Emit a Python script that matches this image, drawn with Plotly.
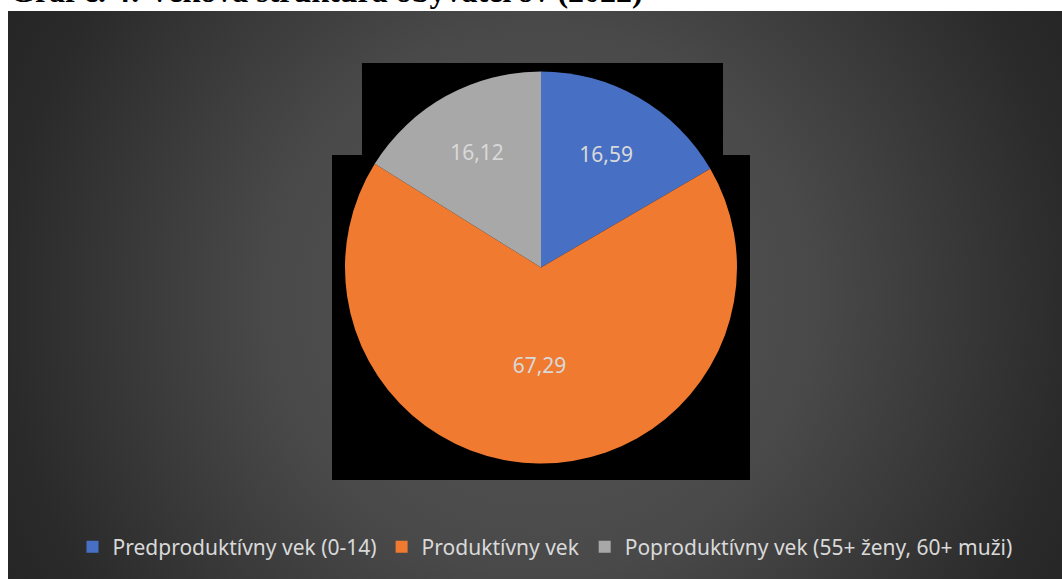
import base64
import plotly.graph_objects as go

# Age structure of the population, 2022 (share in %)
categories = [
    "Predproduktívny vek (0-14)",
    "Produktívny vek",
    "Poproduktívny vek (55+ ženy, 60+ muži)",
]
shares = [16.59, 67.29, 16.12]
slice_colors = ["#4770c4", "#ef7a30", "#a8a8a8"]

title_text = "Graf č. 4: Veková štruktúra obyvateľov (2022)"

W, H = 1062, 579


def px_x(x):
    return x / W


def px_y(y):
    return 1 - y / H


# Dark radial background of the chart area
bg_w, bg_h = 1054, 568
bg_svg = f"""<svg xmlns='http://www.w3.org/2000/svg' width='{bg_w}' height='{bg_h}' viewBox='0 0 {bg_w} {bg_h}' preserveAspectRatio='none'>
<defs><radialGradient id='g' gradientUnits='userSpaceOnUse' cx='533' cy='290' r='610'>
<stop offset='0' stop-color='#575757'/>
<stop offset='0.45' stop-color='#494949'/>
<stop offset='0.88' stop-color='#2a2a2a'/>
<stop offset='1' stop-color='#252525'/>
</radialGradient></defs>
<rect width='{bg_w}' height='{bg_h}' fill='url(#g)'/></svg>"""
bg_uri = "data:image/svg+xml;base64," + base64.b64encode(bg_svg.encode()).decode()

label_font = "'Noto Sans', 'Open Sans', sans-serif"

fig = go.Figure(
    go.Pie(
        labels=categories,
        values=shares,
        sort=False,
        direction="clockwise",
        rotation=0,
        marker=dict(colors=slice_colors, line=dict(width=0)),
        texttemplate="%{value:.2f}",
        textposition="inside",
        insidetextorientation="horizontal",
        textfont=dict(family=label_font, size=21, color="#d9d9d9"),
        hoverinfo="label+value",
        domain=dict(x=[px_x(318), px_x(764)], y=[px_y(463.5), px_y(71.5)]),
        showlegend=True,
    )
)

fig.update_layout(
    width=W,
    height=H,
    margin=dict(l=0, r=0, t=0, b=0),
    paper_bgcolor="white",
    separators=", ",
    images=[
        dict(
            source=bg_uri,
            xref="paper", yref="paper",
            x=px_x(8), y=px_y(11),
            sizex=bg_w / W, sizey=bg_h / H,
            xanchor="left", yanchor="top",
            sizing="stretch",
            layer="below",
        )
    ],
    shapes=[
        dict(type="rect", xref="paper", yref="paper",
             x0=px_x(362), x1=px_x(723), y0=px_y(160), y1=px_y(63),
             fillcolor="black", line=dict(width=0), layer="below"),
        dict(type="rect", xref="paper", yref="paper",
             x0=px_x(332), x1=px_x(750), y0=px_y(480), y1=px_y(155),
             fillcolor="black", line=dict(width=0), layer="below"),
    ],
    annotations=[
        dict(
            text=f"<b>{title_text}</b>",
            xref="paper", yref="paper",
            x=px_x(8), y=px_y(11),
            xanchor="left", yanchor="bottom",
            showarrow=False,
            font=dict(family="Liberation Serif, 'Times New Roman', serif", size=32, color="black"),
        )
    ],
    legend=dict(
        orientation="h",
        x=px_x(545), xanchor="center",
        y=px_y(547), yanchor="middle",
        font=dict(family=label_font, size=21, color="#d9d9d9"),
        bgcolor="rgba(0,0,0,0)",
        itemwidth=30,
        traceorder="normal",
    ),
)

fig.write_html("out.html")
